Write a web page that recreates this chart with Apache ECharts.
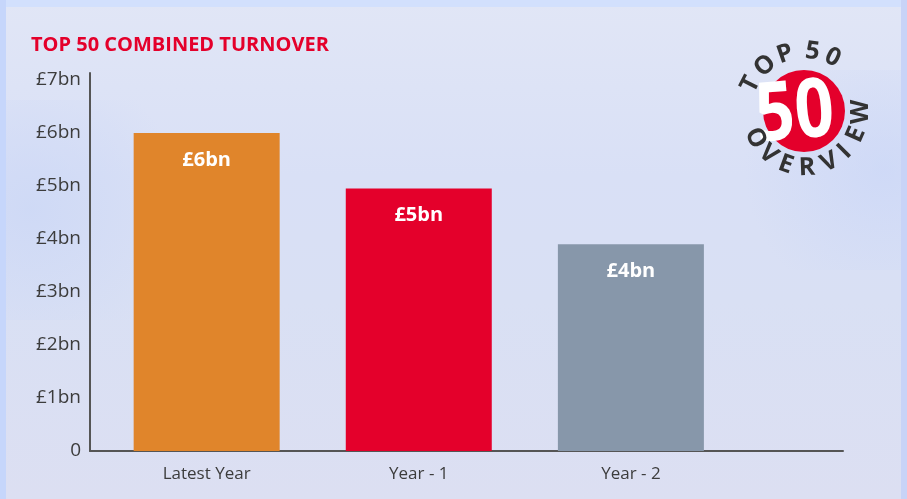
<!DOCTYPE html>
<html>
<head>
<meta charset="utf-8">
<script src="https://cdn.jsdelivr.net/npm/echarts@6/dist/echarts.min.js"></script>
<style>
  html, body { margin: 0; padding: 0; }
  #chart { width: 907px; height: 499px; }
</style>
</head>
<body>
<div id="chart"></div>
<script>
// chart data
var categories = ["Latest Year", "Year - 1", "Year - 2"];
var turnover = [6.0, 4.95, 3.9]; // £bn
var barLabels = ["£6bn", "£5bn", "£4bn"];
var barColors = ["#e0852b", "#e4002b", "#8797aa"];
var yTickValues = [0, 1, 2, 3, 4, 5, 6, 7];
var yTickLabels = ["0", "£1bn", "£2bn", "£3bn", "£4bn", "£5bn", "£6bn", "£7bn"];

var chart = echarts.init(document.getElementById("chart"));

// badge top right: letters round a circle
var cx = 805, cy = 112;
var topText = ["T", "O", "P", "5", "0"];
var topAngles = [-153, -131, -109, -83, -63];
var bottomText = ["O", "V", "E", "R", "V", "I", "E", "W"];
var bottomAngles = [152, 131, 110, 88, 64, 45, 24, 0];
var letterFont = "bold 25px 'Open Sans'";

var badge = [
  {
    type: "circle",
    shape: { cx: 804, cy: 111, r: 41 },
    style: { fill: "#e4002b" },
    z: 10
  },
  {
    type: "text",
    x: 795,
    y: 115,
    rotation: 0.08,
    scaleX: 0.84,
    style: {
      text: "50",
      fill: "#ffffff",
      font: "bold 82px 'Open Sans'",
      align: "center",
      verticalAlign: "middle"
    },
    z: 11
  }
];
topText.forEach(function (ch, i) {
  var a = topAngles[i] * Math.PI / 180;
  badge.push({
    type: "text",
    x: cx + 61 * Math.cos(a),
    y: cy + 61 * Math.sin(a),
    rotation: -(topAngles[i] + 90) * Math.PI / 180,
    style: { text: ch, fill: "#333333", font: letterFont, align: "center", verticalAlign: "middle" },
    z: 12
  });
});
bottomText.forEach(function (ch, i) {
  var a = bottomAngles[i] * Math.PI / 180;
  badge.push({
    type: "text",
    x: cx + 56 * Math.cos(a),
    y: cy + 56 * Math.sin(a),
    rotation: -(bottomAngles[i] - 90) * Math.PI / 180,
    style: { text: ch, fill: "#333333", font: letterFont, align: "center", verticalAlign: "middle" },
    z: 12
  });
});

// sky wash + frame
var backdrop = [
  { type: "rect", shape: { x: 0, y: 0, width: 907, height: 499 },
    style: { fill: new echarts.graphic.LinearGradient(0, 0, 0, 1, [
      { offset: 0, color: "#e1e6f6" },
      { offset: 0.35, color: "#d9e0f6" },
      { offset: 0.6, color: "#d9e0f4" },
      { offset: 1, color: "#dcdff2" }
    ]) }, z: -20, silent: true },
  { type: "rect", shape: { x: 0, y: 100, width: 300, height: 220 },
    style: { fill: new echarts.graphic.RadialGradient(0.1, 0.5, 0.7, [
      { offset: 0, color: "rgba(200,213,246,0.6)" },
      { offset: 1, color: "rgba(200,213,246,0)" }
    ]) }, z: -19, silent: true },
  { type: "rect", shape: { x: 680, y: 70, width: 227, height: 200 },
    style: { fill: new echarts.graphic.RadialGradient(0.9, 0.5, 0.7, [
      { offset: 0, color: "rgba(200,213,247,0.6)" },
      { offset: 1, color: "rgba(200,213,247,0)" }
    ]) }, z: -19, silent: true },
  { type: "rect", shape: { x: 0, y: 0, width: 907, height: 7 }, style: { fill: "#d2e0fd" }, z: -5, silent: true },
  { type: "rect", shape: { x: 0, y: 0, width: 6, height: 499 }, style: { fill: "#c6d6fb" }, z: -5, silent: true },
  { type: "rect", shape: { x: 901, y: 0, width: 6, height: 499 }, style: { fill: "#c8d3f7" }, z: -5, silent: true }
];

var option = {
  backgroundColor: "#dde3f5",
  title: {
    text: "TOP 50 COMBINED TURNOVER",
    left: 26,
    top: 30,
    textStyle: {
      color: "#e4002b",
      fontFamily: "Open Sans",
      fontWeight: "bold",
      fontSize: 20
    }
  },
  grid: {
    left: 90,
    right: 64,
    top: 73,
    bottom: 48
  },
  xAxis: {
    type: "value",
    min: -0.55,
    max: 3.0,
    splitLine: { show: false },
    axisTick: { show: false },
    axisLine: {
      show: true,
      onZero: false,
      lineStyle: { color: "#555555", width: 2 }
    },
    axisLabel: {
      customValues: [0, 1, 2],
      formatter: function (v) {
        return categories[v];
      },
      color: "#3c3c3c",
      fontFamily: "Open Sans",
      fontSize: 17,
      margin: 15
    }
  },
  yAxis: {
    type: "value",
    min: 0,
    max: 7.13,
    splitLine: { show: false },
    axisTick: { show: false },
    axisLine: {
      show: true,
      onZero: false,
      lineStyle: { color: "#555555", width: 2 }
    },
    axisLabel: {
      customValues: yTickValues,
      formatter: function (v) {
        return yTickLabels[yTickValues.indexOf(v)];
      },
      color: "#3c3c3c",
      fontFamily: "Open Sans",
      fontSize: 19,
      margin: 9
    }
  },
  series: [
    {
      type: "bar",
      barWidth: 146,
      data: turnover.map(function (v, i) {
        return { value: [i, v], itemStyle: { color: barColors[i] } };
      }),
      label: {
        show: true,
        position: "insideTop",
        distance: 17,
        formatter: function (p) {
          return barLabels[p.dataIndex];
        },
        color: "#ffffff",
        fontFamily: "Open Sans",
        fontWeight: "bold",
        fontSize: 20
      }
    }
  ],
  graphic: backdrop.concat(badge)
};

chart.setOption(option);
window.addEventListener("resize", function () {
  chart.resize();
});
</script>
</body>
</html>
